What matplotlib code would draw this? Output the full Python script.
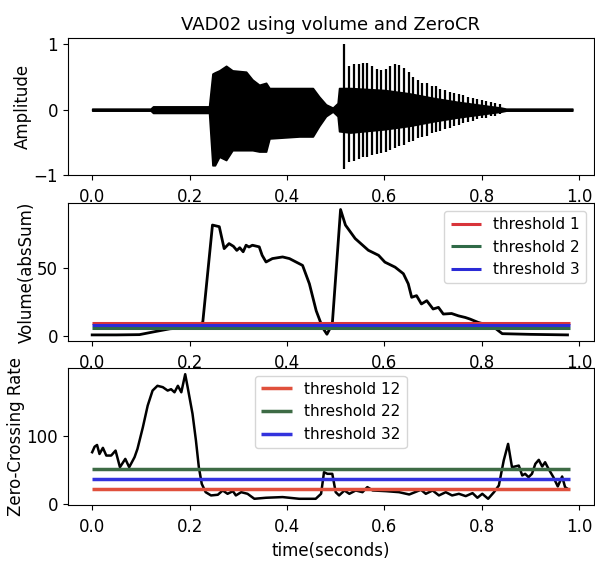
import matplotlib.pyplot as plt

plt.rcParams['font.family'] = ['DejaVu Sans']

# 波形包络
env_t = [0.0, 0.12, 0.125, 0.23, 0.24, 0.247, 0.252, 0.261, 0.275, 0.288, 0.316, 0.329,
         0.343, 0.357, 0.364, 0.425, 0.453, 0.466, 0.48, 0.494, 0.504, 0.507, 0.53,
         0.6, 0.65, 0.7, 0.75, 0.8, 0.84, 0.85, 0.986]
env_hi = [0.015, 0.015, 0.05, 0.05, 0.05, 0.55, 0.57, 0.6, 0.67, 0.6, 0.58, 0.46,
          0.38, 0.41, 0.33, 0.33, 0.33, 0.2, 0.08, 0.03, 0.1, 0.33, 0.33,
          0.3, 0.25, 0.18, 0.12, 0.07, 0.03, 0.015, 0.015]
env_lo = [-0.015, -0.015, -0.05, -0.05, -0.05, -0.85, -0.85, -0.72, -0.77, -0.62, -0.62, -0.62,
          -0.64, -0.64, -0.44, -0.41, -0.41, -0.25, -0.1, -0.03, -0.1, -0.33, -0.35,
          -0.3, -0.25, -0.18, -0.12, -0.07, -0.03, -0.015, -0.015]

# 浊音段的基音脉冲
pulse_t = [0.518, 0.528, 0.537, 0.547, 0.556, 0.565, 0.575, 0.584, 0.594, 0.603, 0.612,
           0.622, 0.631, 0.640, 0.650, 0.659, 0.669, 0.678, 0.687, 0.697, 0.706, 0.715,
           0.725, 0.734, 0.743, 0.753, 0.762, 0.772, 0.781, 0.790, 0.800, 0.809, 0.818,
           0.828, 0.838]
pulse_hi = [1.0, 0.67, 0.70, 0.70, 0.72, 0.71, 0.67, 0.62, 0.60, 0.62, 0.67,
            0.70, 0.69, 0.63, 0.57, 0.50, 0.45, 0.40, 0.40, 0.36, 0.36, 0.32,
            0.30, 0.27, 0.26, 0.24, 0.22, 0.20, 0.18, 0.16, 0.14, 0.13, 0.12,
            0.10, 0.08]
pulse_lo = [-0.9, -0.80, -0.78, -0.76, -0.72, -0.72, -0.70, -0.68, -0.66, -0.64, -0.62,
            -0.58, -0.56, -0.54, -0.50, -0.48, -0.44, -0.42, -0.40, -0.36, -0.34, -0.32,
            -0.30, -0.28, -0.25, -0.23, -0.21, -0.19, -0.17, -0.15, -0.13, -0.12, -0.10,
            -0.09, -0.07]

# 音量
vol_t = [0.0, 0.05, 0.097, 0.13, 0.16, 0.2, 0.227, 0.247, 0.261, 0.271, 0.281, 0.29,
         0.297, 0.303, 0.31, 0.316, 0.322, 0.329, 0.343, 0.349, 0.357, 0.37, 0.391,
         0.405, 0.425, 0.432, 0.446, 0.46, 0.473, 0.482, 0.493, 0.51, 0.52, 0.54,
         0.567, 0.588, 0.601, 0.622, 0.639, 0.649, 0.656, 0.666, 0.676, 0.687, 0.7,
         0.711, 0.721, 0.738, 0.752, 0.766, 0.776, 0.793, 0.81, 0.824, 0.842, 0.9, 0.976]
vol = [1, 1, 1.2, 3.5, 5.5, 6.5, 10, 81.6, 80.4, 64.3, 68, 66,
       63, 65, 62, 66.8, 65.5, 66.8, 65.6, 59.4, 54.5, 57, 58.2,
       57, 53.3, 52, 38.5, 18.7, 6.4, 1.5, 8.9, 93, 81.6, 71.7,
       63.1, 59.4, 54.4, 50.7, 45.9, 38.5, 28.6, 29.8, 23.7, 26.1, 20,
       21.2, 16.3, 16.7, 15, 13.8, 12.6, 10.1, 8.5, 6.9, 1.9, 1.4, 1.0]
vol_thr = [9.5, 6.0, 8.2]

# 过零率
zcr_t = [0.0, 0.005, 0.01, 0.015, 0.022, 0.029, 0.039, 0.048, 0.057, 0.068, 0.076,
         0.087, 0.093, 0.104, 0.114, 0.124, 0.134, 0.145, 0.155, 0.162, 0.169, 0.176,
         0.183, 0.191, 0.196, 0.206, 0.213, 0.219, 0.225, 0.233, 0.244, 0.258, 0.268,
         0.278, 0.289, 0.295, 0.306, 0.319, 0.333, 0.357, 0.391, 0.425, 0.459,
         0.47, 0.476, 0.483, 0.493, 0.5, 0.507, 0.518, 0.528, 0.541, 0.555, 0.565,
         0.576, 0.603, 0.63, 0.651, 0.675, 0.685, 0.699, 0.712, 0.726, 0.739, 0.753,
         0.767, 0.781, 0.791, 0.801, 0.813, 0.825, 0.835, 0.845, 0.854, 0.862, 0.876,
         0.883, 0.889, 0.896, 0.903, 0.91, 0.917, 0.924, 0.93, 0.937, 0.947, 0.956,
         0.965, 0.971, 0.976]
zcr = [75.6, 83.7, 86.2, 73, 82, 70.7, 70.7, 78, 53.6, 65.8, 53.6,
       68.3, 80.5, 112, 144, 166, 173, 171, 166, 168, 163.5, 173,
       163.5, 190, 171, 132, 93, 53.6, 29.2, 17, 12.2, 13.2, 19.5,
       14.6, 18.5, 12.2, 17, 14.6, 7.3, 8.8, 9.8, 7.3, 7.3,
       14.6, 46.3, 43.9, 43.9, 17, 12.2, 19.5, 14.6, 19.5, 17, 24.4,
       19.5, 18.5, 17, 13.6, 20.5, 14.6, 19.5, 12.2, 17, 12.2, 14.6,
       11.2, 15.6, 8.8, 14.6, 7.3, 17, 26.8, 63.4, 87.8, 53.6, 56,
       41.5, 43.9, 39, 43.9, 58.6, 64.4, 54.6, 60.9, 51.2, 39, 25.4,
       40, 24.4, 22]
zcr_thr = [21.4, 50.7, 35.6]

thr_colors = ['#d8343a', '#2f6a47', '#2b2bd6']
zcr_colors = ['#e0503c', '#3d6b45', '#3333dd']

fig = plt.figure(figsize=(5.95, 5.63), dpi=100)
ax1 = fig.add_axes([0.114, 0.689, 0.884, 0.2435])
ax2 = fig.add_axes([0.114, 0.394, 0.884, 0.245])
ax3 = fig.add_axes([0.114, 0.103, 0.884, 0.2434])

# 波形
ax1.fill_between(env_t, env_lo, env_hi, color='k', lw=1.2)
ax1.vlines(pulse_t, pulse_lo, pulse_hi, color='k', lw=1.6)
ax1.set_ylabel('Amplitude', fontsize=12, labelpad=1)
ax1.set_title('VAD02 using volume and ZeroCR', fontsize=13)
ax1.set_yticks([-1, 0, 1])

# 音量
ax2.plot(vol_t, vol, color='k', lw=2)
for i, thr in enumerate(vol_thr):
    ax2.hlines(thr, vol_t[0], 0.982, color=thr_colors[i], lw=2.2, label=f'threshold {i + 1}')
ax2.set_ylabel('Volume(absSum)', fontsize=12, labelpad=1)
ax2.set_yticks([0, 50])
ax2.legend(loc='upper right', fontsize=11)

# 过零率
ax3.plot(zcr_t, zcr, color='k', lw=1.8)
for i, thr in enumerate(zcr_thr):
    ax3.hlines(thr, zcr_t[0], 0.982, color=zcr_colors[i], lw=2.5, label=f'threshold {i + 1}2')
ax3.set_ylabel('Zero-Crossing Rate', fontsize=12, labelpad=1)
ax3.set_xlabel('time(seconds)', fontsize=12)
ax3.set_yticks([0, 100])
ax3.legend(loc='upper center', fontsize=11)

for ax in (ax1, ax2, ax3):
    ax.set_xlim(-0.05, 1.03)
    ax.set_xticks([0.0, 0.2, 0.4, 0.6, 0.8, 1.0])
    ax.tick_params(labelsize=12)
    ax.tick_params(axis='x', pad=6)

fig.savefig('out.png', dpi=100)
